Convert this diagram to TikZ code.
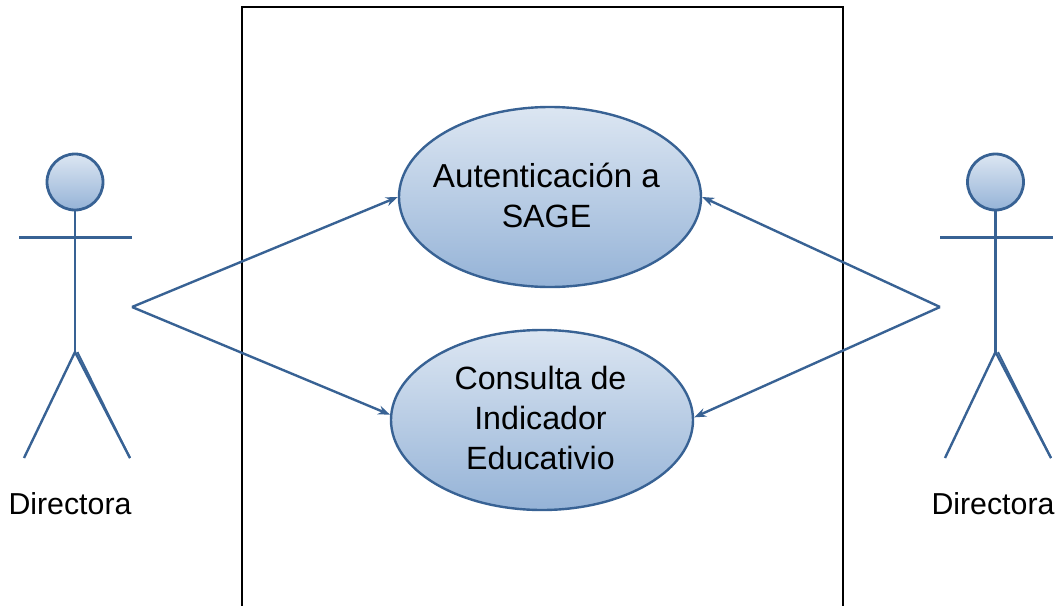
\documentclass[tikz,border=0pt]{standalone}
\usepackage{fontspec}
\setmainfont{Liberation Sans}
\usetikzlibrary{shapes.geometric,arrows.meta}
\definecolor{umlline}{HTML}{386294}
\definecolor{umltop}{HTML}{DCE6F2}
\definecolor{umlbot}{HTML}{95B3D7}
\tikzset{
  x=1pt,y=-1pt,
  usecase/.style={ellipse,draw=umlline,line width=2.4pt,top color=umltop,bottom color=umlbot,
    minimum width=302pt,minimum height=180pt,inner sep=0pt},
  caselabel/.style={align=center,text=black,inner sep=0pt,font=\fontsize{32.2}{40}\selectfont},
  limb/.style={draw=umlline,line width=2.4pt},
  headshape/.style={circle,draw=umlline,line width=2.8pt,top color=umltop,bottom color=umlbot,
    minimum size=56pt,inner sep=0pt},
  link/.style={draw=umlline,line width=2.4pt,-{Stealth[length=12pt,width=9pt]}},
  actorname/.style={font=\fontsize{30.3}{36}\selectfont,text=black,inner sep=0pt}
}
\begin{document}
\begin{tikzpicture}
\useasboundingbox (0,0) rectangle (1060,605);
% system boundary
\draw[black,line width=2.4pt] (242,610) -- (242,7) -- (843,7) -- (843,610);
% use cases
\node[usecase] (e1) at (550,197) {};
\node[usecase] (e2) at (542,420) {};
\node[caselabel] (l1) at (546.5,195) {{\fontsize{33.2}{40}\selectfont Autenticación a}\\SAGE};
\node[caselabel] (l2) at (540.5,418) {Consulta de\\Indicador\\Educativio};
% left actor
\node[headshape] (h1) at (75,182) {};
\coordinate (al1) at (19,237.5);
\coordinate (ar1) at (132,237.5);
\coordinate (hip1) at (75,352);
\coordinate (ll1) at (24,458);
\coordinate (rl1) at (130,458);
\coordinate (c1) at (132,307);
\draw[limb] (h1.south) -- (hip1);
\draw[limb] (al1) -- (ar1);
\draw[limb] (ll1) -- (hip1) -- (rl1);
\draw[limb,line width=1.8pt] (rl1) -- (77.5,352);
\node[actorname] (t1) at (70,504) {Directora};
% right actor
\node[headshape] (h2) at (995.5,182) {};
\coordinate (al2) at (940,237.5);
\coordinate (ar2) at (1053,237.5);
\coordinate (hip2) at (995.5,352);
\coordinate (ll2) at (945,458);
\coordinate (rl2) at (1051,458);
\coordinate (c2) at (940,307);
\draw[limb] (h2.south) -- (hip2);
\draw[limb] (al2) -- (ar2);
\draw[limb] (ll2) -- (hip2) -- (rl2);
\draw[limb,line width=1.8pt] (rl2) -- (998,352);
\node[actorname] (t2) at (993,504) {Directora};
% connectors
\draw[link] (c1) -- (e1.west);
\draw[link] (c1) -- (e2.178.5);
\draw[link] (c2) -- (e1.0.7);
\draw[link] (c2) -- (e2.1.5);
\end{tikzpicture}
\end{document}
